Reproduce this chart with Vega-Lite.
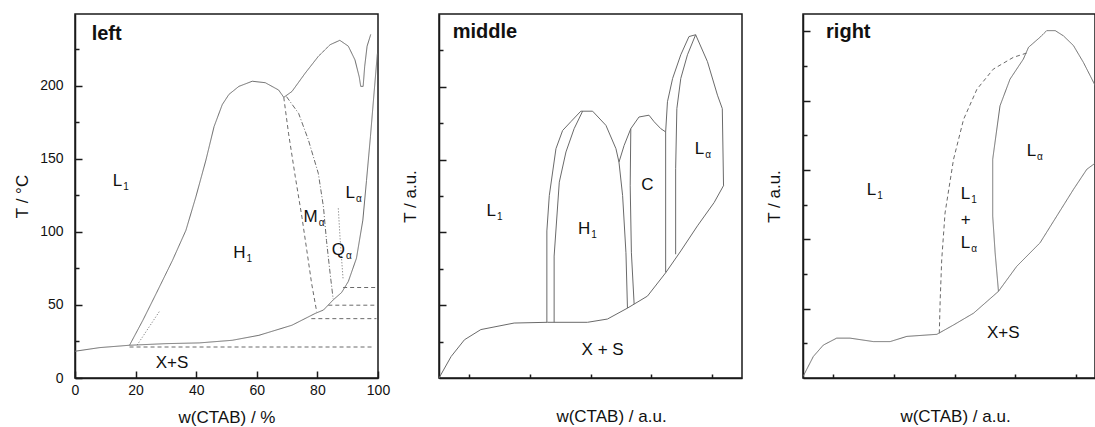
{
  "$schema": "https://vega.github.io/schema/vega-lite/v6.json",
  "padding": {"left": 12, "top": 13, "right": 0, "bottom": 0},
  "bounds": "flush",
  "spacing": 61,
  "resolve": {"scale": {"strokeDash": "independent"}},
  "config": {
    "font": "Liberation Sans",
    "view": {"stroke": "#1a1a1a", "strokeWidth": 1.5},
    "axis": {"domainColor": "#1a1a1a", "domainWidth": 1.5, "tickColor": "#1a1a1a", "tickWidth": 1.5, "grid": false, "labelFontSize": 14, "labelColor": "#111", "titleFontSize": 17, "titleFontWeight": "normal", "titleColor": "#111", "labelFont": "Liberation Sans", "titleFont": "Liberation Sans", "labelFlush": false, "labelOverlap": false},
    "text": {"color": "#111", "font": "Liberation Sans"}
  },
  "datasets": {
    "leftLines": [
      {"series": "lower", "i": 0, "x": 0, "y": 18.3},
      {"series": "lower", "i": 1, "x": 8.2, "y": 20.8},
      {"series": "lower", "i": 2, "x": 18, "y": 22.4},
      {"series": "lower", "i": 3, "x": 30, "y": 23.5},
      {"series": "lower", "i": 4, "x": 41, "y": 24},
      {"series": "lower", "i": 5, "x": 51.9, "y": 25.8},
      {"series": "lower", "i": 6, "x": 60.7, "y": 29.2},
      {"series": "lower", "i": 7, "x": 71.6, "y": 36.1},
      {"series": "lower", "i": 8, "x": 79.2, "y": 44.1},
      {"series": "lower", "i": 9, "x": 82, "y": 46.5},
      {"series": "lower", "i": 10, "x": 85.2, "y": 53.4},
      {"series": "lower", "i": 11, "x": 88, "y": 58.5},
      {"series": "lower", "i": 12, "x": 90.2, "y": 66},
      {"series": "lower", "i": 13, "x": 92.9, "y": 82},
      {"series": "lower", "i": 14, "x": 95, "y": 108},
      {"series": "lower", "i": 15, "x": 96.2, "y": 135},
      {"series": "lower", "i": 16, "x": 97.5, "y": 165},
      {"series": "lower", "i": 17, "x": 98.7, "y": 195},
      {"series": "lower", "i": 18, "x": 99.8, "y": 222},
      {"series": "h1", "i": 0, "x": 18, "y": 22.4},
      {"series": "h1", "i": 1, "x": 22.4, "y": 39.5},
      {"series": "h1", "i": 2, "x": 26.8, "y": 57.8},
      {"series": "h1", "i": 3, "x": 32.2, "y": 80.6},
      {"series": "h1", "i": 4, "x": 36.6, "y": 101},
      {"series": "h1", "i": 5, "x": 39.9, "y": 124},
      {"series": "h1", "i": 6, "x": 43.2, "y": 149},
      {"series": "h1", "i": 7, "x": 45.9, "y": 172},
      {"series": "h1", "i": 8, "x": 48.6, "y": 187},
      {"series": "h1", "i": 9, "x": 50.8, "y": 194},
      {"series": "h1", "i": 10, "x": 54.1, "y": 199.5},
      {"series": "h1", "i": 11, "x": 58.5, "y": 203},
      {"series": "h1", "i": 12, "x": 62.8, "y": 202},
      {"series": "h1", "i": 13, "x": 67.2, "y": 197},
      {"series": "h1", "i": 14, "x": 68.9, "y": 192},
      {"series": "top", "i": 0, "x": 68.9, "y": 192},
      {"series": "top", "i": 1, "x": 71.6, "y": 196},
      {"series": "top", "i": 2, "x": 76, "y": 208.6},
      {"series": "top", "i": 3, "x": 80.3, "y": 220},
      {"series": "top", "i": 4, "x": 84.2, "y": 228},
      {"series": "top", "i": 5, "x": 87.4, "y": 231},
      {"series": "top", "i": 6, "x": 90.2, "y": 227},
      {"series": "top", "i": 7, "x": 92.4, "y": 217.6},
      {"series": "top", "i": 8, "x": 93.8, "y": 206},
      {"series": "top", "i": 9, "x": 94.3, "y": 199.5},
      {"series": "top", "i": 10, "x": 95.1, "y": 199.5},
      {"series": "top", "i": 11, "x": 95.6, "y": 213},
      {"series": "top", "i": 12, "x": 96.4, "y": 227},
      {"series": "top", "i": 13, "x": 97.6, "y": 235},
      {"series": "hm", "i": 0, "x": 68.9, "y": 192},
      {"series": "hm", "i": 1, "x": 70.5, "y": 167},
      {"series": "hm", "i": 2, "x": 72.7, "y": 137.7},
      {"series": "hm", "i": 3, "x": 74.9, "y": 110},
      {"series": "hm", "i": 4, "x": 76.5, "y": 87.4},
      {"series": "hm", "i": 5, "x": 78.1, "y": 64.6},
      {"series": "hm", "i": 6, "x": 79.8, "y": 45},
      {"series": "mq", "i": 0, "x": 69.8, "y": 192.5},
      {"series": "mq", "i": 1, "x": 73.8, "y": 181},
      {"series": "mq", "i": 2, "x": 77, "y": 163},
      {"series": "mq", "i": 3, "x": 80.3, "y": 140},
      {"series": "mq", "i": 4, "x": 82, "y": 117},
      {"series": "mq", "i": 5, "x": 83, "y": 94},
      {"series": "mq", "i": 6, "x": 84.2, "y": 71.5},
      {"series": "mq", "i": 7, "x": 85.2, "y": 54},
      {"series": "ql", "i": 0, "x": 86.9, "y": 116},
      {"series": "ql", "i": 1, "x": 87.5, "y": 95},
      {"series": "ql", "i": 2, "x": 88.5, "y": 67},
      {"series": "d1", "i": 0, "x": 20.5, "y": 22.5},
      {"series": "d1", "i": 1, "x": 28, "y": 46},
      {"series": "h21", "i": 0, "x": 18, "y": 21.2},
      {"series": "h21", "i": 1, "x": 98, "y": 21.2},
      {"series": "h40", "i": 0, "x": 78, "y": 40.6},
      {"series": "h40", "i": 1, "x": 99.5, "y": 40.6},
      {"series": "h50", "i": 0, "x": 83.6, "y": 49.8},
      {"series": "h50", "i": 1, "x": 99.5, "y": 49.8},
      {"series": "h62", "i": 0, "x": 88.5, "y": 61.9},
      {"series": "h62", "i": 1, "x": 99.5, "y": 61.9}
    ],
    "leftSub": [
      {"main": "L", "sub": "1", "x": 15.6, "y": 131},
      {"main": "H", "sub": "1", "x": 56.3, "y": 82},
      {"main": "M", "sub": "α", "x": 80.1, "y": 106.4},
      {"main": "Q", "sub": "α", "x": 89.1, "y": 84.2},
      {"main": "L", "sub": "α", "x": 92.4, "y": 123}
    ],
    "leftPlain": [
      {"text": "X+S", "x": 32, "y": 6.6}
    ],
    "leftTitle": [
      {"text": "left", "x": 5.5, "y": 231}
    ],
    "midLines": [
      {"series": "lower", "i": 0, "x": 0, "y": 0},
      {"series": "lower", "i": 1, "x": 0.4, "y": 0.59},
      {"series": "lower", "i": 2, "x": 0.84, "y": 1.05},
      {"series": "lower", "i": 3, "x": 1.38, "y": 1.33},
      {"series": "lower", "i": 4, "x": 2.48, "y": 1.51},
      {"series": "lower", "i": 5, "x": 3.58, "y": 1.53},
      {"series": "lower", "i": 6, "x": 4.9, "y": 1.53},
      {"series": "lower", "i": 7, "x": 5.56, "y": 1.62},
      {"series": "lower", "i": 8, "x": 6.22, "y": 1.92},
      {"series": "lower", "i": 9, "x": 6.88, "y": 2.25},
      {"series": "lower", "i": 10, "x": 7.48, "y": 2.89},
      {"series": "lower", "i": 11, "x": 7.98, "y": 3.49},
      {"series": "lower", "i": 12, "x": 8.53, "y": 4.18},
      {"series": "lower", "i": 13, "x": 9.08, "y": 4.82},
      {"series": "lower", "i": 14, "x": 9.4, "y": 5.3},
      {"series": "h1out", "i": 0, "x": 3.56, "y": 1.53},
      {"series": "h1out", "i": 1, "x": 3.56, "y": 4.04},
      {"series": "h1out", "i": 2, "x": 3.64, "y": 5.01},
      {"series": "h1out", "i": 3, "x": 3.86, "y": 6.3},
      {"series": "h1out", "i": 4, "x": 4.08, "y": 6.8},
      {"series": "h1out", "i": 5, "x": 4.35, "y": 7.04},
      {"series": "h1out", "i": 6, "x": 4.68, "y": 7.33},
      {"series": "h1in", "i": 0, "x": 3.8, "y": 1.53},
      {"series": "h1in", "i": 1, "x": 3.8, "y": 3.35},
      {"series": "h1in", "i": 2, "x": 3.97, "y": 5.38},
      {"series": "h1in", "i": 3, "x": 4.19, "y": 6.21},
      {"series": "h1in", "i": 4, "x": 4.46, "y": 6.85},
      {"series": "h1in", "i": 5, "x": 4.74, "y": 7.33},
      {"series": "h1right", "i": 0, "x": 4.68, "y": 7.33},
      {"series": "h1right", "i": 1, "x": 5.07, "y": 7.33},
      {"series": "h1right", "i": 2, "x": 5.51, "y": 6.94},
      {"series": "h1right", "i": 3, "x": 5.84, "y": 6.3},
      {"series": "h1right", "i": 4, "x": 5.94, "y": 5.93},
      {"series": "h1right", "i": 5, "x": 6.06, "y": 5.01},
      {"series": "h1right", "i": 6, "x": 6.17, "y": 3.44},
      {"series": "h1right", "i": 7, "x": 6.22, "y": 1.92},
      {"series": "cout", "i": 0, "x": 5.94, "y": 5.93},
      {"series": "cout", "i": 1, "x": 6.11, "y": 6.39},
      {"series": "cout", "i": 2, "x": 6.33, "y": 6.85},
      {"series": "cout", "i": 3, "x": 6.6, "y": 7.17},
      {"series": "cout", "i": 4, "x": 6.93, "y": 7.22},
      {"series": "cout", "i": 5, "x": 7.1, "y": 7.04},
      {"series": "cout", "i": 6, "x": 7.32, "y": 6.85},
      {"series": "cout", "i": 7, "x": 7.48, "y": 6.76},
      {"series": "cin", "i": 0, "x": 6.33, "y": 6.85},
      {"series": "cin", "i": 1, "x": 6.31, "y": 5.28},
      {"series": "cin", "i": 2, "x": 6.35, "y": 3.44},
      {"series": "cin", "i": 3, "x": 6.44, "y": 2.03},
      {"series": "cright", "i": 0, "x": 7.48, "y": 6.76},
      {"series": "cright", "i": 1, "x": 7.48, "y": 2.9},
      {"series": "laout", "i": 0, "x": 7.48, "y": 6.76},
      {"series": "laout", "i": 1, "x": 7.54, "y": 7.59},
      {"series": "laout", "i": 2, "x": 7.71, "y": 8.23},
      {"series": "laout", "i": 3, "x": 7.98, "y": 8.88},
      {"series": "laout", "i": 4, "x": 8.25, "y": 9.38},
      {"series": "laout", "i": 5, "x": 8.47, "y": 9.43},
      {"series": "lain", "i": 0, "x": 8.47, "y": 9.43},
      {"series": "lain", "i": 1, "x": 8.2, "y": 8.88},
      {"series": "lain", "i": 2, "x": 7.98, "y": 8.23},
      {"series": "lain", "i": 3, "x": 7.85, "y": 7.4},
      {"series": "lain", "i": 4, "x": 7.81, "y": 5.75},
      {"series": "lain", "i": 5, "x": 7.81, "y": 3.4},
      {"series": "laright", "i": 0, "x": 8.47, "y": 9.43},
      {"series": "laright", "i": 1, "x": 8.86, "y": 8.69},
      {"series": "laright", "i": 2, "x": 9.19, "y": 7.77},
      {"series": "laright", "i": 3, "x": 9.35, "y": 7.4},
      {"series": "laright", "i": 4, "x": 9.39, "y": 5.3}
    ],
    "midSub": [
      {"main": "L", "sub": "1", "x": 1.88, "y": 4.46},
      {"main": "H", "sub": "1", "x": 4.99, "y": 3.95},
      {"main": "L", "sub": "α", "x": 8.75, "y": 6.16}
    ],
    "midPlain": [
      {"text": "C", "x": 6.88, "y": 5.17},
      {"text": "X + S", "x": 5.4, "y": 0.64}
    ],
    "midTitle": [
      {"text": "middle", "x": 0.45, "y": 9.34}
    ],
    "rightLines": [
      {"series": "lower", "i": 0, "x": 0, "y": 0.04},
      {"series": "lower", "i": 1, "x": 0.34, "y": 0.62},
      {"series": "lower", "i": 2, "x": 0.67, "y": 0.95},
      {"series": "lower", "i": 3, "x": 1.11, "y": 1.15},
      {"series": "lower", "i": 4, "x": 1.55, "y": 1.15},
      {"series": "lower", "i": 5, "x": 2.32, "y": 1.05},
      {"series": "lower", "i": 6, "x": 2.87, "y": 1.05},
      {"series": "lower", "i": 7, "x": 3.42, "y": 1.2},
      {"series": "lower", "i": 8, "x": 4.41, "y": 1.26},
      {"series": "lower", "i": 9, "x": 4.96, "y": 1.53},
      {"series": "lower", "i": 10, "x": 5.62, "y": 1.87},
      {"series": "lower", "i": 11, "x": 6.44, "y": 2.5},
      {"series": "lower", "i": 12, "x": 7.04, "y": 3.22},
      {"series": "lower", "i": 13, "x": 7.81, "y": 3.9},
      {"series": "lower", "i": 14, "x": 8.36, "y": 4.67},
      {"series": "lower", "i": 15, "x": 8.91, "y": 5.44},
      {"series": "lower", "i": 16, "x": 9.35, "y": 6.02},
      {"series": "lower", "i": 17, "x": 9.63, "y": 6.2},
      {"series": "lower", "i": 18, "x": 10, "y": 6.6},
      {"series": "l1la", "i": 0, "x": 4.49, "y": 1.29},
      {"series": "l1la", "i": 1, "x": 4.52, "y": 2.26},
      {"series": "l1la", "i": 2, "x": 4.57, "y": 3.41},
      {"series": "l1la", "i": 3, "x": 4.68, "y": 4.76},
      {"series": "l1la", "i": 4, "x": 4.96, "y": 6.31},
      {"series": "l1la", "i": 5, "x": 5.29, "y": 7.46},
      {"series": "l1la", "i": 6, "x": 5.73, "y": 8.33},
      {"series": "l1la", "i": 7, "x": 6.27, "y": 8.91},
      {"series": "l1la", "i": 8, "x": 6.93, "y": 9.25},
      {"series": "l1la", "i": 9, "x": 7.43, "y": 9.39},
      {"series": "la", "i": 0, "x": 6.44, "y": 2.5},
      {"series": "la", "i": 1, "x": 6.33, "y": 3.61},
      {"series": "la", "i": 2, "x": 6.25, "y": 4.67},
      {"series": "la", "i": 3, "x": 6.25, "y": 6.31},
      {"series": "la", "i": 4, "x": 6.49, "y": 7.85},
      {"series": "la", "i": 5, "x": 6.82, "y": 8.62},
      {"series": "la", "i": 6, "x": 7.26, "y": 9.2},
      {"series": "la", "i": 7, "x": 7.43, "y": 9.54},
      {"series": "la", "i": 8, "x": 7.81, "y": 9.83},
      {"series": "la", "i": 9, "x": 8.03, "y": 10.02},
      {"series": "la", "i": 10, "x": 8.31, "y": 10.02},
      {"series": "la", "i": 11, "x": 8.58, "y": 9.87},
      {"series": "la", "i": 12, "x": 8.91, "y": 9.59},
      {"series": "la", "i": 13, "x": 9.24, "y": 9.1},
      {"series": "la", "i": 14, "x": 9.63, "y": 8.43},
      {"series": "la", "i": 15, "x": 10, "y": 7.6}
    ],
    "rightSub": [
      {"main": "L", "sub": "1", "x": 2.41, "y": 5.29},
      {"main": "L", "sub": "1", "x": 5.51, "y": 5.15},
      {"main": "L", "sub": "α", "x": 5.51, "y": 3.75},
      {"main": "L", "sub": "α", "x": 7.68, "y": 6.4}
    ],
    "rightPlain": [
      {"text": "+", "x": 5.36, "y": 4.4},
      {"text": "X+S", "x": 6.6, "y": 1.15}
    ],
    "rightTitle": [
      {"text": "right", "x": 0.76, "y": 9.8}
    ]
  },
  "hconcat": [
    {
      "width": 303,
      "height": 364,
      "layer": [
        {
          "data": {"name": "leftLines"},
          "mark": {"type": "line", "color": "#6a6a6a", "strokeWidth": 1},
          "encoding": {
            "x": {"field": "x", "type": "quantitative", "scale": {"domain": [0, 100], "nice": false, "zero": false},
              "axis": {"values": [0, 10, 20, 30, 40, 50, 60, 70, 80, 90, 100], "labelExpr": "datum.value % 20 === 0 ? datum.label : ''", "tickSize": {"condition": {"test": "datum.value % 20 === 0", "value": -7}, "value": -4}, "labelPadding": 12, "title": "w(CTAB) / %", "titlePadding": 12}},
            "y": {"field": "y", "type": "quantitative", "scale": {"domain": [0, 249], "nice": false, "zero": false},
              "axis": {"values": [0, 25, 50, 75, 100, 125, 150, 175, 200, 225], "labelExpr": "datum.value % 50 === 0 ? datum.label : ''", "tickSize": {"condition": {"test": "datum.value % 50 === 0", "value": -7}, "value": -4}, "labelPadding": 19, "title": "T / °C", "titlePadding": 8}},
            "order": {"field": "i", "type": "quantitative"},
            "detail": {"field": "series", "type": "nominal"},
            "strokeDash": {"field": "series", "type": "nominal", "legend": null,
              "scale": {"domain": ["lower", "h1", "top", "hm", "mq", "ql", "d1", "h21", "h40", "h50", "h62"],
                "range": [[1, 0], [1, 0], [1, 0], [4, 3], [5, 2, 1, 2], [1, 2], [1, 2], [4, 3], [4, 3], [4, 3], [4, 3]]}}
          }
        },
        {
          "data": {"name": "leftSub"},
          "mark": {"type": "text", "align": "right", "baseline": "alphabetic", "fontSize": 17},
          "encoding": {"x": {"field": "x", "type": "quantitative"}, "y": {"field": "y", "type": "quantitative"}, "text": {"field": "main"}}
        },
        {
          "data": {"name": "leftSub"},
          "mark": {"type": "text", "align": "left", "baseline": "alphabetic", "fontSize": 10, "dx": 1, "dy": 4},
          "encoding": {"x": {"field": "x", "type": "quantitative"}, "y": {"field": "y", "type": "quantitative"}, "text": {"field": "sub"}}
        },
        {
          "data": {"name": "leftPlain"},
          "mark": {"type": "text", "align": "center", "baseline": "alphabetic", "fontSize": 17},
          "encoding": {"x": {"field": "x", "type": "quantitative"}, "y": {"field": "y", "type": "quantitative"}, "text": {"field": "text"}}
        },
        {
          "data": {"name": "leftTitle"},
          "mark": {"type": "text", "align": "left", "baseline": "alphabetic", "fontSize": 20, "fontWeight": "bold"},
          "encoding": {"x": {"field": "x", "type": "quantitative"}, "y": {"field": "y", "type": "quantitative"}, "text": {"field": "text"}}
        }
      ]
    },
    {
      "width": 303,
      "height": 364,
      "layer": [
        {
          "data": {"name": "midLines"},
          "mark": {"type": "line", "color": "#6a6a6a", "strokeWidth": 1},
          "encoding": {
            "x": {"field": "x", "type": "quantitative", "scale": {"domain": [0, 10], "nice": false, "zero": false},
              "axis": {"values": [1, 2, 3, 4, 5, 6, 7, 8, 9], "labels": false, "tickSize": {"condition": {"test": "datum.value % 2 === 0", "value": -7}, "value": -4}, "title": "w(CTAB) / a.u.", "titlePadding": 30, "titleX": 172}},
            "y": {"field": "y", "type": "quantitative", "scale": {"domain": [0, 10], "nice": false, "zero": false},
              "axis": {"values": [1, 2, 3, 4, 5, 6, 7, 8, 9], "labels": false, "tickSize": {"condition": {"test": "datum.value % 2 === 0", "value": -7}, "value": -4}, "title": "T / a.u.", "titlePadding": 19}},
            "order": {"field": "i", "type": "quantitative"},
            "detail": {"field": "series", "type": "nominal"}
          }
        },
        {
          "data": {"name": "midSub"},
          "mark": {"type": "text", "align": "right", "baseline": "alphabetic", "fontSize": 17},
          "encoding": {"x": {"field": "x", "type": "quantitative"}, "y": {"field": "y", "type": "quantitative"}, "text": {"field": "main"}}
        },
        {
          "data": {"name": "midSub"},
          "mark": {"type": "text", "align": "left", "baseline": "alphabetic", "fontSize": 10, "dx": 1, "dy": 4},
          "encoding": {"x": {"field": "x", "type": "quantitative"}, "y": {"field": "y", "type": "quantitative"}, "text": {"field": "sub"}}
        },
        {
          "data": {"name": "midPlain"},
          "mark": {"type": "text", "align": "center", "baseline": "alphabetic", "fontSize": 17},
          "encoding": {"x": {"field": "x", "type": "quantitative"}, "y": {"field": "y", "type": "quantitative"}, "text": {"field": "text"}}
        },
        {
          "data": {"name": "midTitle"},
          "mark": {"type": "text", "align": "left", "baseline": "alphabetic", "fontSize": 20, "fontWeight": "bold"},
          "encoding": {"x": {"field": "x", "type": "quantitative"}, "y": {"field": "y", "type": "quantitative"}, "text": {"field": "text"}}
        }
      ]
    },
    {
      "width": 292,
      "height": 364,
      "layer": [
        {
          "data": {"name": "rightLines"},
          "mark": {"type": "line", "color": "#6a6a6a", "strokeWidth": 1, "clip": true},
          "encoding": {
            "x": {"field": "x", "type": "quantitative", "scale": {"domain": [0, 9.62], "nice": false, "zero": false},
              "axis": {"values": [1, 2, 3, 4, 5, 6, 7, 8, 9], "labels": false, "tickSize": {"condition": {"test": "datum.value % 2 === 0", "value": -7}, "value": -4}, "title": "w(CTAB) / a.u.", "titlePadding": 30, "titleX": 152}},
            "y": {"field": "y", "type": "quantitative", "scale": {"domain": [0, 10.5], "nice": false, "zero": false},
              "axis": {"values": [1, 2, 3, 4, 5, 6, 7, 8, 9, 10], "labels": false, "tickSize": {"condition": {"test": "datum.value % 2 === 0", "value": -7}, "value": -4}, "title": "T / a.u.", "titlePadding": 19}},
            "order": {"field": "i", "type": "quantitative"},
            "detail": {"field": "series", "type": "nominal"},
            "strokeDash": {"field": "series", "type": "nominal", "legend": null,
              "scale": {"domain": ["lower", "l1la", "la"], "range": [[1, 0], [4, 3], [1, 0]]}}
          }
        },
        {
          "data": {"name": "rightSub"},
          "mark": {"type": "text", "align": "right", "baseline": "alphabetic", "fontSize": 17},
          "encoding": {"x": {"field": "x", "type": "quantitative"}, "y": {"field": "y", "type": "quantitative"}, "text": {"field": "main"}}
        },
        {
          "data": {"name": "rightSub"},
          "mark": {"type": "text", "align": "left", "baseline": "alphabetic", "fontSize": 10, "dx": 1, "dy": 4},
          "encoding": {"x": {"field": "x", "type": "quantitative"}, "y": {"field": "y", "type": "quantitative"}, "text": {"field": "sub"}}
        },
        {
          "data": {"name": "rightPlain"},
          "mark": {"type": "text", "align": "center", "baseline": "alphabetic", "fontSize": 17},
          "encoding": {"x": {"field": "x", "type": "quantitative"}, "y": {"field": "y", "type": "quantitative"}, "text": {"field": "text"}}
        },
        {
          "data": {"name": "rightTitle"},
          "mark": {"type": "text", "align": "left", "baseline": "alphabetic", "fontSize": 20, "fontWeight": "bold"},
          "encoding": {"x": {"field": "x", "type": "quantitative"}, "y": {"field": "y", "type": "quantitative"}, "text": {"field": "text"}}
        }
      ]
    }
  ]
}
